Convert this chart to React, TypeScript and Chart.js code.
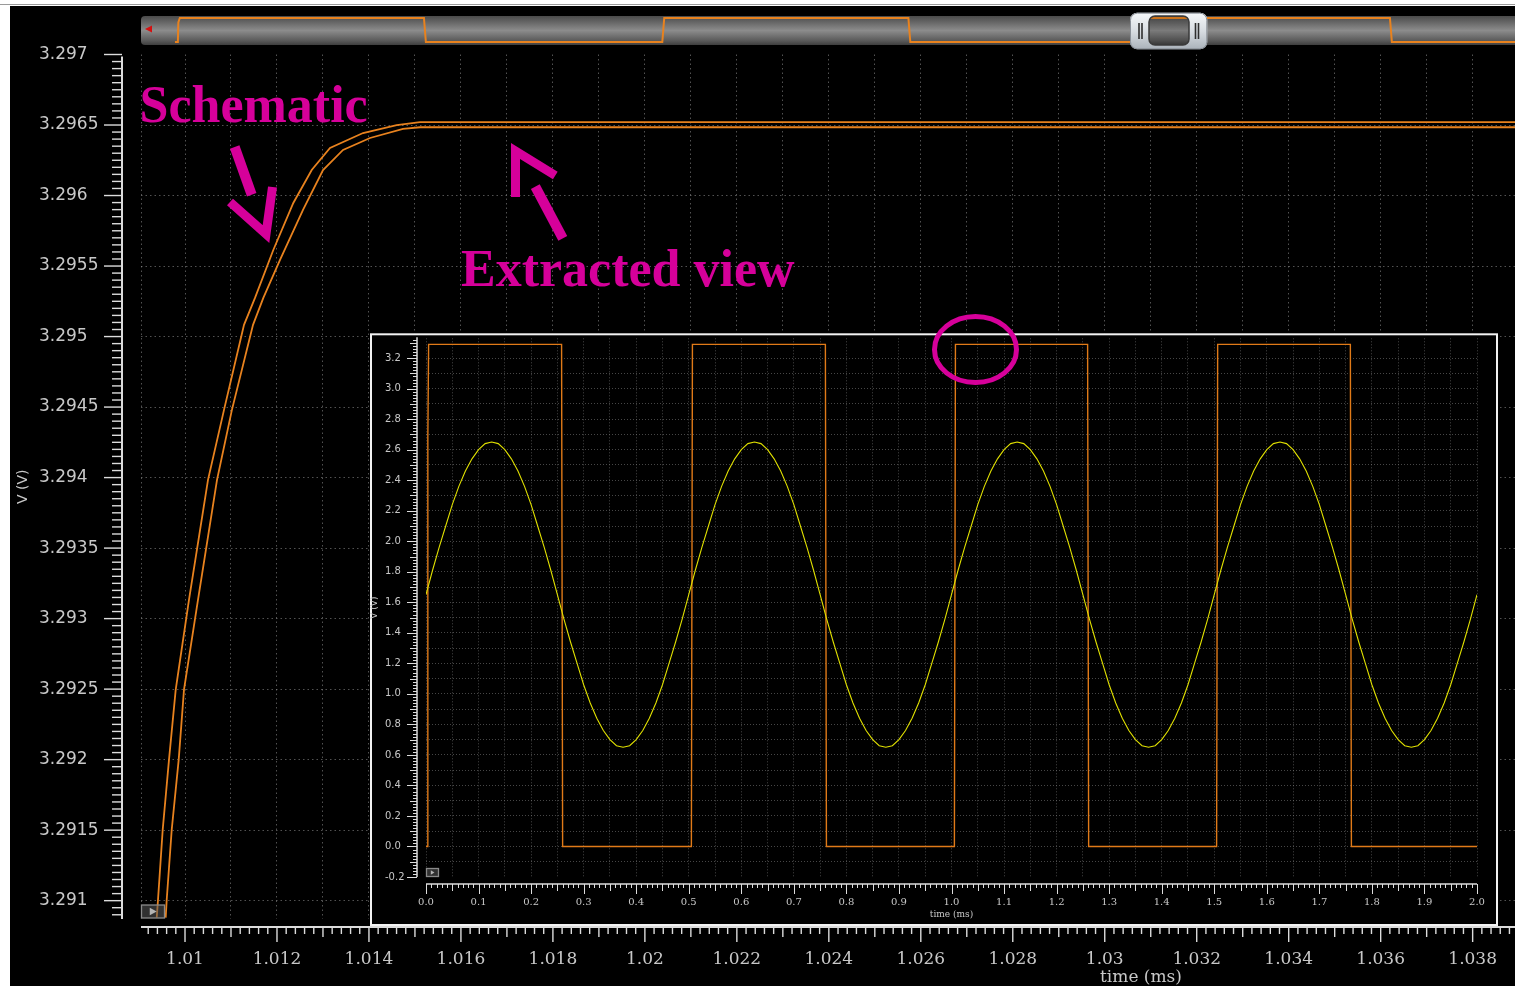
import React, { useEffect, useRef } from 'react';
import { Chart, registerables } from 'chart.js';

Chart.register(...registerables);

// ---------------- Data ----------------
// Main (zoomed) view: time in ms, voltage in V
const schematicTime = [1.009385, 1.009413, 1.009515, 1.009652, 1.009798, 1.010087, 1.0105, 1.010848, 1.011283, 1.011522, 1.01192, 1.012355, 1.012755, 1.013153, 1.013871, 1.014603, 1.01511, 1.039];
const schematicVolt = [3.29088, 3.291007, 3.291503, 3.292, 3.292496, 3.293134, 3.293984, 3.29448, 3.295083, 3.295274, 3.295614, 3.295947, 3.296181, 3.296337, 3.296443, 3.2965, 3.296521, 3.296521];
const extractedTime = [1.00958, 1.009602, 1.009711, 1.009863, 1.009978, 1.010283, 1.010696, 1.01102, 1.011479, 1.011703, 1.012066, 1.012566, 1.013001, 1.013436, 1.014023, 1.014741, 1.01511, 1.039];
const extractedVolt = [3.29088, 3.291007, 3.291503, 3.292, 3.292496, 3.293134, 3.293984, 3.29448, 3.295083, 3.295274, 3.295543, 3.295898, 3.296181, 3.296323, 3.296408, 3.296472, 3.296484, 3.296484];

const mainXTickLabels = ['1.01', '1.012', '1.014', '1.016', '1.018', '1.02', '1.022', '1.024', '1.026', '1.028', '1.03', '1.032', '1.034', '1.036', '1.038'];
const mainYTickLabels = ['3.291', '3.2915', '3.292', '3.2925', '3.293', '3.2935', '3.294', '3.2945', '3.295', '3.2955', '3.296', '3.2965', '3.297'];

// Inset (full run) view: time in ms, voltage in V
const squareTime = [0, 0.003, 0.0035, 0.005, 0.258, 0.26, 0.505, 0.507, 0.76, 0.762, 1.0055, 1.0075, 1.259, 1.261, 1.5045, 1.5065, 1.759, 1.761, 2.0];
const squareVolt = [0, 0, 2.68, 3.29, 3.29, 0, 0, 3.29, 3.29, 0, 0, 3.29, 3.29, 0, 0, 3.29, 3.29, 0, 0];
const sineStep = 0.0125;
const sineVolt = [
  1.65, 1.81, 1.96, 2.1, 2.24, 2.36, 2.46, 2.54, 2.6, 2.64, 2.65, 2.64, 2.6, 2.54, 2.46, 2.36, 2.24, 2.1, 1.96, 1.81,
  1.65, 1.49, 1.34, 1.2, 1.06, 0.94, 0.84, 0.76, 0.7, 0.66, 0.65, 0.66, 0.7, 0.76, 0.84, 0.94, 1.06, 1.2, 1.34, 1.49,
  1.65, 1.81, 1.96, 2.1, 2.24, 2.36, 2.46, 2.54, 2.6, 2.64, 2.65, 2.64, 2.6, 2.54, 2.46, 2.36, 2.24, 2.1, 1.96, 1.81,
  1.65, 1.49, 1.34, 1.2, 1.06, 0.94, 0.84, 0.76, 0.7, 0.66, 0.65, 0.66, 0.7, 0.76, 0.84, 0.94, 1.06, 1.2, 1.34, 1.49,
  1.65, 1.81, 1.96, 2.1, 2.24, 2.36, 2.46, 2.54, 2.6, 2.64, 2.65, 2.64, 2.6, 2.54, 2.46, 2.36, 2.24, 2.1, 1.96, 1.81,
  1.65, 1.49, 1.34, 1.2, 1.06, 0.94, 0.84, 0.76, 0.7, 0.66, 0.65, 0.66, 0.7, 0.76, 0.84, 0.94, 1.06, 1.2, 1.34, 1.49,
  1.65, 1.81, 1.96, 2.1, 2.24, 2.36, 2.46, 2.54, 2.6, 2.64, 2.65, 2.64, 2.6, 2.54, 2.46, 2.36, 2.24, 2.1, 1.96, 1.81,
  1.65, 1.49, 1.34, 1.2, 1.06, 0.94, 0.84, 0.76, 0.7, 0.66, 0.65, 0.66, 0.7, 0.76, 0.84, 0.94, 1.06, 1.2, 1.34, 1.49,
  1.65,
];
const insetXTickLabels = ['0.0', '0.1', '0.2', '0.3', '0.4', '0.5', '0.6', '0.7', '0.8', '0.9', '1.0', '1.1', '1.2', '1.3', '1.4', '1.5', '1.6', '1.7', '1.8', '1.9', '2.0'];
const insetYTickLabels = ['-0.2', '0.0', '0.2', '0.4', '0.6', '0.8', '1.0', '1.2', '1.4', '1.6', '1.8', '2.0', '2.2', '2.4', '2.6', '2.8', '3.0', '3.2'];

// ---------------- Ranges / styles ----------------
const MAIN_X_MIN = 1.009043;
const MAIN_X_MAX = 1.038921;
const MAIN_Y_MIN = 3.29087;
const MAIN_Y_MAX = 3.297;
const INSET_X_MIN = 0;
const INSET_X_MAX = 2;
const INSET_Y_MIN = -0.2;
const INSET_Y_MAX = 3.33;
const STRIP_X_MIN = -0.0352;
const STRIP_X_MAX = 1.3886;
const STRIP_Y_MIN = -0.411;
const STRIP_Y_MAX = 3.564;

const ORANGE = '#e8821e';
const ORANGE_INSET = '#e07a18';
const YELLOW = '#e0e000';
const MAGENTA = '#d6009a';
const AXIS = '#dcdcdc';
const LABEL = '#c8c8c8';
const GRID = 'rgba(150,150,150,0.55)';
const GRID_INSET = 'rgba(140,140,140,0.5)';

const mainXGrid: number[] = [MAIN_X_MIN];
for (let k = 0; k <= 28; k++) mainXGrid.push(Number((1.01 + k * 0.001).toFixed(3)));
const mainYGrid = mainYTickLabels.map(Number);
const insetXGrid: number[] = [];
for (let k = 0; k <= 40; k++) insetXGrid.push(Number((k * 0.05).toFixed(2)));
const insetYGrid: number[] = [];
for (let k = -2; k <= 33; k++) insetYGrid.push(Number((k * 0.1).toFixed(1)));

function pts(t: number[], v: number[]) {
  return t.map((x, i) => ({ x, y: v[i] }));
}
const sineTime = sineVolt.map((_, i) => Number((i * sineStep).toFixed(4)));

function labelFor(value: number, labels: string[]) {
  const hit = labels.find((l) => Math.abs(Number(l) - value) < 1e-9);
  return hit === undefined ? '' : hit;
}

function tickLoop(min: number, max: number, step: number, cb: (i: number, v: number) => void) {
  const a = Math.ceil(min / step - 1e-6);
  const b = Math.floor(max / step + 1e-6);
  for (let i = a; i <= b; i++) cb(i, i * step);
}

function rrect(ctx: CanvasRenderingContext2D, x: number, y: number, w: number, h: number, r: number) {
  ctx.moveTo(x + r, y);
  ctx.lineTo(x + w - r, y);
  ctx.arcTo(x + w, y, x + w, y + r, r);
  ctx.lineTo(x + w, y + h - r);
  ctx.arcTo(x + w, y + h, x + w - r, y + h, r);
  ctx.lineTo(x + r, y + h);
  ctx.arcTo(x, y + h, x, y + h - r, r);
  ctx.lineTo(x, y + r);
  ctx.arcTo(x, y, x + r, y, r);
  ctx.closePath();
}

function line(ctx: CanvasRenderingContext2D, p: number[][], w: number) {
  ctx.lineWidth = w;
  ctx.beginPath();
  ctx.moveTo(p[0][0], p[0][1]);
  for (let i = 1; i < p.length; i++) ctx.lineTo(p[i][0], p[i][1]);
  ctx.stroke();
}

function playIcon(ctx: CanvasRenderingContext2D, x: number, y: number, w: number, h: number) {
  ctx.fillStyle = 'rgba(90,90,90,0.55)';
  ctx.strokeStyle = '#8a8a8a';
  ctx.lineWidth = 1.3;
  ctx.fillRect(x, y, w, h);
  ctx.strokeRect(x, y, w, h);
  ctx.fillStyle = '#b4b4b4';
  ctx.beginPath();
  ctx.moveTo(x + w * 0.36, y + h * 0.22);
  ctx.lineTo(x + w * 0.36, y + h * 0.78);
  ctx.lineTo(x + w * 0.66, y + h * 0.5);
  ctx.closePath();
  ctx.fill();
}

// ---------------- Plugins ----------------
const mainDecor = {
  id: 'mainDecor',
  afterDraw(chart: any) {
    const { ctx, chartArea: ca } = chart;
    const xs = chart.scales.x;
    const ys = chart.scales.y;
    const axisX = ca.left - 19;
    const axisY = ca.bottom + 8;
    ctx.save();
    ctx.strokeStyle = AXIS;
    ctx.lineWidth = 2;
    ctx.beginPath();
    ctx.moveTo(axisX, ca.top + 2);
    ctx.lineTo(axisX, ca.bottom);
    ctx.stroke();
    ctx.beginPath();
    ctx.moveTo(ca.left, axisY);
    ctx.lineTo(ca.right, axisY);
    ctx.stroke();
    ctx.lineWidth = 1.4;
    tickLoop(MAIN_Y_MIN, MAIN_Y_MAX, 0.00005, (i, v) => {
      const p = ys.getPixelForValue(v);
      const len = i % 10 === 0 ? 18 : 10;
      ctx.beginPath();
      ctx.moveTo(axisX - len, p);
      ctx.lineTo(axisX, p);
      ctx.stroke();
    });
    tickLoop(MAIN_X_MIN, MAIN_X_MAX, 0.0002, (i, v) => {
      const p = xs.getPixelForValue(v);
      const len = i % 10 === 0 ? 15 : i % 5 === 0 ? 10 : 7;
      ctx.beginPath();
      ctx.moveTo(p, axisY);
      ctx.lineTo(p, axisY + len);
      ctx.stroke();
    });
    // x axis title (off-centre, as in the viewer)
    ctx.fillStyle = LABEL;
    ctx.font = '17px "DejaVu Serif"';
    ctx.textAlign = 'center';
    ctx.textBaseline = 'middle';
    ctx.fillText('time (ms)', 1141, 978);
    playIcon(ctx, ca.left + 0.5, ca.bottom - 14, 23, 13);

    // annotations
    ctx.fillStyle = MAGENTA;
    ctx.strokeStyle = MAGENTA;
    ctx.font = 'bold 52px "Liberation Serif"';
    ctx.textAlign = 'left';
    ctx.textBaseline = 'alphabetic';
    ctx.fillText('Schematic', 139.5, 122);
    ctx.fillText('Extracted view', 461, 286);
    ctx.lineCap = 'butt';
    ctx.lineJoin = 'miter';
    ctx.miterLimit = 10;
    line(ctx, [[234.7, 147], [251.7, 194.7]], 10);
    line(ctx, [[230, 202], [266, 234], [272.5, 187]], 9);
    line(ctx, [[535.3, 186.7], [562.8, 238.3]], 10);
    line(ctx, [[515.5, 197], [515.5, 151], [555.3, 175.5]], 9);
    ctx.restore();
  },
};

const insetDecor = {
  id: 'insetDecor',
  beforeDraw(chart: any) {
    const { ctx } = chart;
    ctx.save();
    ctx.fillStyle = '#000';
    ctx.fillRect(10, 28.3, 1128, 592.7);
    ctx.strokeStyle = '#f2f2f2';
    ctx.lineWidth = 2;
    ctx.strokeRect(11, 29.3, 1126, 590.7);
    ctx.restore();
  },
  afterDraw(chart: any) {
    const { ctx, chartArea: ca } = chart;
    const xs = chart.scales.x;
    const ys = chart.scales.y;
    const axisX = ca.left - 9;
    const axisY = ca.bottom + 7;
    ctx.save();
    ctx.strokeStyle = AXIS;
    ctx.lineWidth = 1.5;
    ctx.beginPath();
    ctx.moveTo(axisX, ca.top - 1);
    ctx.lineTo(axisX, ca.bottom);
    ctx.stroke();
    ctx.beginPath();
    ctx.moveTo(ca.left, axisY);
    ctx.lineTo(ca.right, axisY);
    ctx.stroke();
    ctx.lineWidth = 1;
    tickLoop(INSET_Y_MIN, INSET_Y_MAX, 0.02, (i, v) => {
      const p = Math.round(ys.getPixelForValue(v)) + 0.5;
      const len = i % 10 === 0 ? 10 : i % 5 === 0 ? 7 : 4;
      ctx.beginPath();
      ctx.moveTo(axisX - len, p);
      ctx.lineTo(axisX, p);
      ctx.stroke();
    });
    tickLoop(INSET_X_MIN, INSET_X_MAX, 0.01, (i, v) => {
      const p = Math.round(xs.getPixelForValue(v)) + 0.5;
      const len = i % 10 === 0 ? 10 : i % 5 === 0 ? 7 : 4;
      ctx.beginPath();
      ctx.moveTo(p, axisY);
      ctx.lineTo(p, axisY + len);
      ctx.stroke();
    });
    playIcon(ctx, ca.left + 0.5, ca.bottom - 8.5, 12, 8);
    // highlight ellipse
    ctx.strokeStyle = MAGENTA;
    ctx.lineWidth = 5;
    ctx.beginPath();
    ctx.ellipse(615.5, 44.5, 41, 33, 0, 0, Math.PI * 2);
    ctx.stroke();
    ctx.restore();
  },
};

const stripDecor = {
  id: 'stripDecor',
  beforeDraw(chart: any) {
    const { ctx, chartArea: ca } = chart;
    ctx.save();
    const g = ctx.createLinearGradient(0, ca.top, 0, ca.bottom);
    g.addColorStop(0, '#4a4a4a');
    g.addColorStop(0.15, '#5e5e5e');
    g.addColorStop(0.5, '#8c8c8c');
    g.addColorStop(0.85, '#5a5a5a');
    g.addColorStop(1, '#3e3e3e');
    ctx.fillStyle = g;
    ctx.beginPath();
    rrect(ctx, ca.left, ca.top, ca.right - ca.left + 10, ca.bottom - ca.top, 4);
    ctx.fill();
    ctx.restore();
  },
  afterDraw(chart: any) {
    const { ctx, chartArea: ca } = chart;
    ctx.save();
    // left red arrow
    ctx.fillStyle = '#d41010';
    ctx.beginPath();
    ctx.moveTo(ca.left + 4, 21);
    ctx.lineTo(ca.left + 11, 17.5);
    ctx.lineTo(ca.left + 11, 24.5);
    ctx.closePath();
    ctx.fill();
    // slider
    const g = ctx.createLinearGradient(0, 4.7, 0, 41.3);
    g.addColorStop(0, '#f6f8fa');
    g.addColorStop(0.5, '#d8dde2');
    g.addColorStop(1, '#aab2ba');
    ctx.fillStyle = g;
    ctx.beginPath();
    rrect(ctx, 1000, 4.7, 77.3, 36.6, 7);
    rrect(ctx, 1019, 8, 40, 29, 6);
    ctx.fill('evenodd');
    ctx.strokeStyle = '#8a9098';
    ctx.lineWidth = 1;
    ctx.beginPath();
    rrect(ctx, 1000.5, 5.2, 76.3, 35.6, 7);
    ctx.stroke();
    ctx.fillStyle = 'rgba(0,0,0,0.12)';
    ctx.strokeStyle = '#3a3a3a';
    ctx.lineWidth = 1.5;
    ctx.beginPath();
    rrect(ctx, 1019, 8, 40, 29, 6);
    ctx.fill();
    ctx.stroke();
    ctx.strokeStyle = '#2e2e2e';
    ctx.lineWidth = 1.6;
    [1009, 1012, 1065.5, 1068.5].forEach((x) => {
      ctx.beginPath();
      ctx.moveTo(x, 15);
      ctx.lineTo(x, 31);
      ctx.stroke();
    });
    ctx.restore();
  },
};

// ---------------- Charts ----------------
function makeMain(canvas: HTMLCanvasElement) {
  return new Chart(canvas, {
    type: 'line',
    data: {
      datasets: [
        { data: pts(schematicTime, schematicVolt), borderColor: ORANGE, borderWidth: 1.8, pointRadius: 0, tension: 0 },
        { data: pts(extractedTime, extractedVolt), borderColor: ORANGE, borderWidth: 1.8, pointRadius: 0, tension: 0 },
      ],
    },
    options: {
      responsive: false,
      animation: false,
      devicePixelRatio: 1,
      events: [],
      layout: { padding: { top: 54.5, left: 39, right: 0, bottom: 0 } },
      plugins: { legend: { display: false }, tooltip: { enabled: false } },
      scales: {
        x: {
          type: 'linear',
          min: MAIN_X_MIN,
          max: MAIN_X_MAX,
          afterBuildTicks: (s: any) => {
            s.ticks = mainXGrid.map((v) => ({ value: v }));
          },
          afterFit: (s: any) => {
            s.height = 67;
            s.paddingLeft = 0;
            s.paddingRight = 0;
          },
          grid: { color: GRID, lineWidth: 1, drawTicks: false },
          border: { display: false, dash: [1.5, 3] },
          ticks: {
            autoSkip: false,
            maxRotation: 0,
            minRotation: 0,
            padding: 30,
            color: LABEL,
            font: { family: '"DejaVu Serif"', size: 17 },
            callback: (v: any) => labelFor(Number(v), mainXTickLabels),
          },
        },
        y: {
          type: 'linear',
          min: MAIN_Y_MIN,
          max: MAIN_Y_MAX,
          afterBuildTicks: (s: any) => {
            s.ticks = mainYGrid.map((v) => ({ value: v }));
          },
          afterFit: (s: any) => {
            s.width = 102;
            s.paddingTop = 0;
            s.paddingBottom = 0;
          },
          grid: {
            color: (c: any) => (c.tick && Math.abs(c.tick.value - MAIN_Y_MAX) < 1e-9 ? 'rgba(0,0,0,0)' : GRID),
            lineWidth: 1,
            drawTicks: false,
          },
          border: { display: false, dash: [1.5, 3] },
          ticks: {
            autoSkip: false,
            crossAlign: 'far',
            padding: 43,
            color: LABEL,
            font: { family: '"DejaVu Sans"', size: 17 },
            callback: (v: any) => labelFor(Number(v), mainYTickLabels),
          },
          title: {
            display: true,
            text: 'V (V)',
            color: LABEL,
            font: { family: '"DejaVu Sans"', size: 14 },
            padding: { top: -24.4, bottom: 0 },
          },
        },
      },
    },
    plugins: [mainDecor],
  } as any);
}

function makeInset(canvas: HTMLCanvasElement) {
  return new Chart(canvas, {
    type: 'line',
    data: {
      datasets: [
        { data: pts(sineTime, sineVolt), borderColor: YELLOW, borderWidth: 1.1, pointRadius: 0, tension: 0 },
        { data: pts(squareTime, squareVolt), borderColor: ORANGE_INSET, borderWidth: 1.4, pointRadius: 0, tension: 0 },
      ],
    },
    options: {
      responsive: false,
      animation: false,
      devicePixelRatio: 1,
      events: [],
      layout: { padding: { top: 33.3, left: 25, right: 28, bottom: 0 } },
      plugins: { legend: { display: false }, tooltip: { enabled: false } },
      scales: {
        x: {
          type: 'linear',
          min: INSET_X_MIN,
          max: INSET_X_MAX,
          afterBuildTicks: (s: any) => {
            s.ticks = insetXGrid.map((v) => ({ value: v }));
          },
          afterFit: (s: any) => {
            s.height = 58;
            s.paddingLeft = 0;
            s.paddingRight = 0;
          },
          grid: { color: GRID_INSET, lineWidth: 1, drawTicks: false },
          border: { display: false, dash: [1, 2] },
          ticks: {
            autoSkip: false,
            maxRotation: 0,
            minRotation: 0,
            padding: 19,
            color: LABEL,
            font: { family: '"DejaVu Serif"', size: 10 },
            callback: (v: any) => labelFor(Number(v), insetXTickLabels),
          },
          title: {
            display: true,
            text: 'time (ms)',
            color: LABEL,
            font: { family: '"DejaVu Serif"', size: 9 },
            padding: { top: 0, bottom: 14.6 },
          },
        },
        y: {
          type: 'linear',
          min: INSET_Y_MIN,
          max: INSET_Y_MAX,
          afterBuildTicks: (s: any) => {
            s.ticks = insetYGrid.map((v) => ({ value: v }));
          },
          afterFit: (s: any) => {
            s.width = 41;
            s.paddingTop = 0;
            s.paddingBottom = 0;
          },
          grid: {
            color: (c: any) =>
              c.tick && (Math.abs(c.tick.value - INSET_Y_MIN) < 1e-9 || c.tick.value > 3.25) ? 'rgba(0,0,0,0)' : GRID_INSET,
            lineWidth: 1,
            drawTicks: false,
          },
          border: { display: false, dash: [1, 2] },
          ticks: {
            autoSkip: false,
            crossAlign: 'far',
            padding: 27,
            color: LABEL,
            font: { family: '"DejaVu Sans"', size: 10 },
            callback: (v: any) => labelFor(Number(v), insetYTickLabels),
          },
          title: {
            display: true,
            text: 'V (V)',
            color: LABEL,
            font: { family: '"DejaVu Sans"', size: 9 },
            padding: { top: -15.4, bottom: 0 },
          },
        },
      },
    },
    plugins: [insetDecor],
  } as any);
}

function makeStrip(canvas: HTMLCanvasElement) {
  return new Chart(canvas, {
    type: 'line',
    data: {
      datasets: [{ data: pts(squareTime, squareVolt), borderColor: ORANGE, borderWidth: 2, pointRadius: 0, tension: 0 }],
    },
    options: {
      responsive: false,
      animation: false,
      devicePixelRatio: 1,
      events: [],
      layout: { padding: { top: 8, left: 11, right: 0, bottom: 7 } },
      plugins: { legend: { display: false }, tooltip: { enabled: false } },
      scales: {
        x: { type: 'linear', display: false, min: STRIP_X_MIN, max: STRIP_X_MAX },
        y: { type: 'linear', display: false, min: STRIP_Y_MIN, max: STRIP_Y_MAX },
      },
    },
    plugins: [stripDecor],
  } as any);
}

export default function App() {
  const mainRef = useRef<HTMLCanvasElement>(null);
  const insetRef = useRef<HTMLCanvasElement>(null);
  const stripRef = useRef<HTMLCanvasElement>(null);

  useEffect(() => {
    const charts = [makeMain(mainRef.current!), makeInset(insetRef.current!), makeStrip(stripRef.current!)];
    return () => charts.forEach((c) => c.destroy());
  }, []);

  return (
    <div style={{ position: 'absolute', left: 0, top: 0, width: 1515, height: 986, background: '#fff', overflow: 'hidden' }}>
      <div style={{ position: 'absolute', left: 0, top: 4, width: 1515, height: 1, background: '#9a9a9a' }} />
      <div style={{ position: 'absolute', left: 10, top: 6, width: 1505, height: 980, background: '#000' }} />
      <canvas ref={mainRef} width={1515} height={986} style={{ position: 'absolute', left: 0, top: 0 }} />
      <canvas ref={insetRef} width={1145} height={630} style={{ position: 'absolute', left: 360, top: 305 }} />
      <canvas ref={stripRef} width={1385} height={44} style={{ position: 'absolute', left: 130, top: 8 }} />
    </div>
  );
}
